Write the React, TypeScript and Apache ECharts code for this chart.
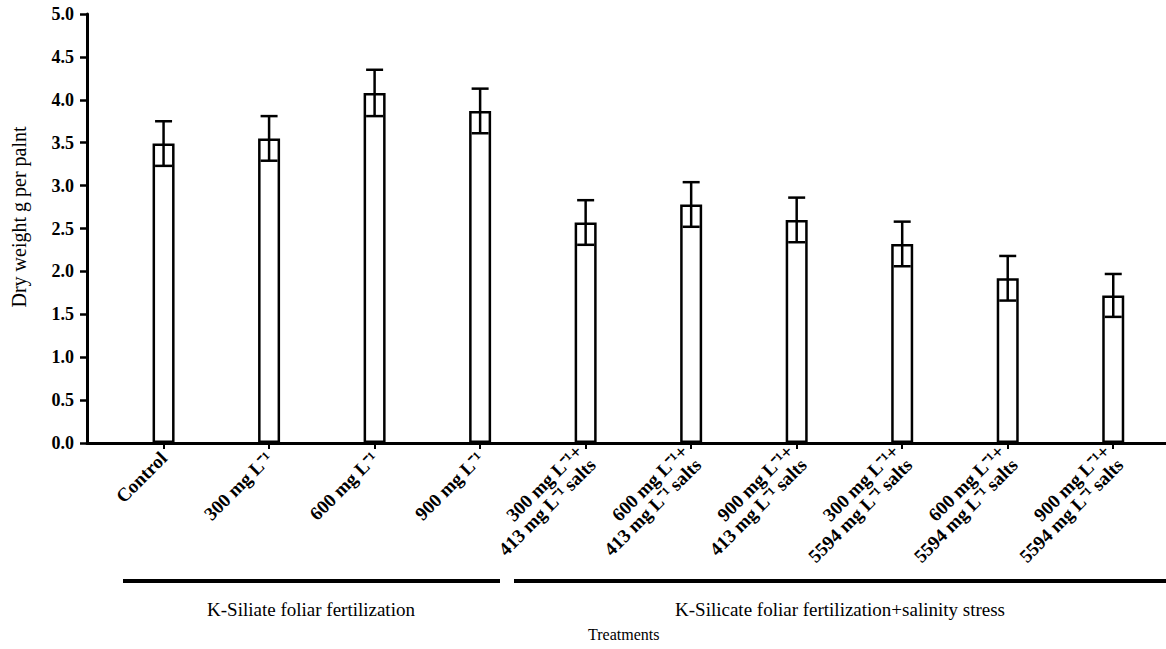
import React, { useEffect, useRef } from "react";
import * as echarts from "echarts";

const categories: string[] = [
  "Control",
  "300 mg L⁻¹",
  "600 mg L⁻¹",
  "900 mg L⁻¹",
  "300 mg L⁻¹+\n413 mg L⁻¹ salts",
  "600 mg L⁻¹+\n413 mg L⁻¹ salts",
  "900 mg L⁻¹+\n413 mg L⁻¹ salts",
  "300 mg L⁻¹+\n5594 mg L⁻¹ salts",
  "600 mg L⁻¹+\n5594 mg L⁻¹ salts",
  "900 mg L⁻¹+\n5594 mg L⁻¹ salts",
];
const means: number[] = [3.49, 3.55, 4.08, 3.87, 2.57, 2.78, 2.6, 2.32, 1.92, 1.72];
const errors: number[] = [0.26, 0.26, 0.27, 0.26, 0.26, 0.26, 0.26, 0.26, 0.26, 0.25];
const yTicks: number[] = [0, 0.5, 1, 1.5, 2, 2.5, 3, 3.5, 4, 4.5, 5];
const groupLabels: string[] = [
  "K-Siliate foliar fertilization",
  "K-Silicate foliar fertilization+salinity stress",
];
const yTitle = "Dry weight g per palnt";
const xTitle = "Treatments";

const FONT = "Liberation Serif";

export default function App() {
  const ref = useRef<HTMLDivElement>(null);
  useEffect(() => {
    if (!ref.current) return;
    const chart = echarts.init(ref.current, null, { renderer: "svg" });
    const top = 14;
    const h = 429;
    const txt = (size: number, weight = "normal") => ({
      fontFamily: FONT,
      fontSize: size,
      fontWeight: weight,
      fill: "#000",
    });
    const option: any = {
      animation: false,
      backgroundColor: "#fff",
      grid: [
        { left: 87, top, right: 0, height: h },
        { left: 110.8, top, width: 1084, height: h },
      ],
      xAxis: [
        {
          type: "value",
          gridIndex: 0,
          min: 0,
          max: 1,
          axisLine: { show: true, lineStyle: { color: "#000", width: 3 } },
          axisTick: { show: false },
          axisLabel: { show: false },
          splitLine: { show: false },
        },
        {
          type: "category",
          gridIndex: 1,
          data: categories,
          axisLine: { show: false },
          axisTick: { show: true, alignWithLabel: true, length: 6, lineStyle: { color: "#000", width: 2 } },
          axisLabel: {
            interval: 0,
            rotate: 45,
            margin: 12,
            color: "#000",
            fontFamily: FONT,
            fontWeight: "bold",
            fontSize: 19,
            lineHeight: 19,
          },
          splitLine: { show: false },
        },
      ],
      yAxis: [
        {
          type: "value",
          gridIndex: 0,
          min: 0,
          max: 5,
          interval: 0.5,
          axisLine: { show: true, lineStyle: { color: "#000", width: 3 } },
          axisTick: { show: true, length: 7, lineStyle: { color: "#000", width: 2.5 } },
          axisLabel: {
            margin: 13,
            color: "#000",
            fontFamily: FONT,
            fontWeight: "bold",
            fontSize: 18,
            formatter: (v: number) => (yTicks.includes(v) ? v.toFixed(1) : ""),
          },
          splitLine: { show: false },
        },
        { type: "value", gridIndex: 1, min: 0, max: 5, show: false },
      ],
      series: [
        {
          type: "bar",
          xAxisIndex: 1,
          yAxisIndex: 1,
          data: means,
          barWidth: 22,
          itemStyle: { color: "#fff", borderColor: "#000", borderWidth: 2.5 },
          z: 2,
        },
        {
          type: "custom",
          xAxisIndex: 1,
          yAxisIndex: 1,
          z: 5,
          encode: { x: 0, y: 1 },
          data: means.map((m, i) => [i, m, errors[i]]),
          renderItem: (params: any, api: any) => {
            const x = api.value(0);
            const m = api.value(1);
            const e = api.value(2);
            const p1 = api.coord([x, m + e]);
            const p2 = api.coord([x, m - e]);
            const hw = 8.5;
            const st = { stroke: "#000", lineWidth: 2.5 };
            return {
              type: "group",
              children: [
                { type: "line", shape: { x1: p1[0], y1: p1[1], x2: p2[0], y2: p2[1] }, style: st },
                { type: "line", shape: { x1: p1[0] - hw, y1: p1[1], x2: p1[0] + hw, y2: p1[1] }, style: st },
                { type: "line", shape: { x1: p2[0] - hw, y1: p2[1], x2: p2[0] + hw, y2: p2[1] }, style: st },
              ],
            };
          },
        },
      ],
      graphic: [
        {
          type: "text",
          x: 19,
          y: 217,
          rotation: Math.PI / 2,
          style: { text: yTitle, ...txt(20), align: "center", verticalAlign: "middle" },
        },
        { type: "line", shape: { x1: 123, y1: 581, x2: 500, y2: 581 }, style: { stroke: "#000", lineWidth: 4 } },
        { type: "line", shape: { x1: 514, y1: 581, x2: 1166, y2: 581 }, style: { stroke: "#000", lineWidth: 4 } },
        {
          type: "text",
          x: 311,
          y: 609,
          style: { text: groupLabels[0], ...txt(19), align: "center", verticalAlign: "middle" },
        },
        {
          type: "text",
          x: 840,
          y: 609,
          style: { text: groupLabels[1], ...txt(19), align: "center", verticalAlign: "middle" },
        },
        {
          type: "text",
          x: 588,
          y: 634,
          style: { text: xTitle, ...txt(16), align: "left", verticalAlign: "middle" },
        },
      ],
    };
    chart.setOption(option);
    return () => chart.dispose();
  }, []);
  return (
    <div
      ref={ref}
      style={{ position: "fixed", left: 0, top: 0, width: 1166, height: 649, background: "#fff" }}
    />
  );
}
